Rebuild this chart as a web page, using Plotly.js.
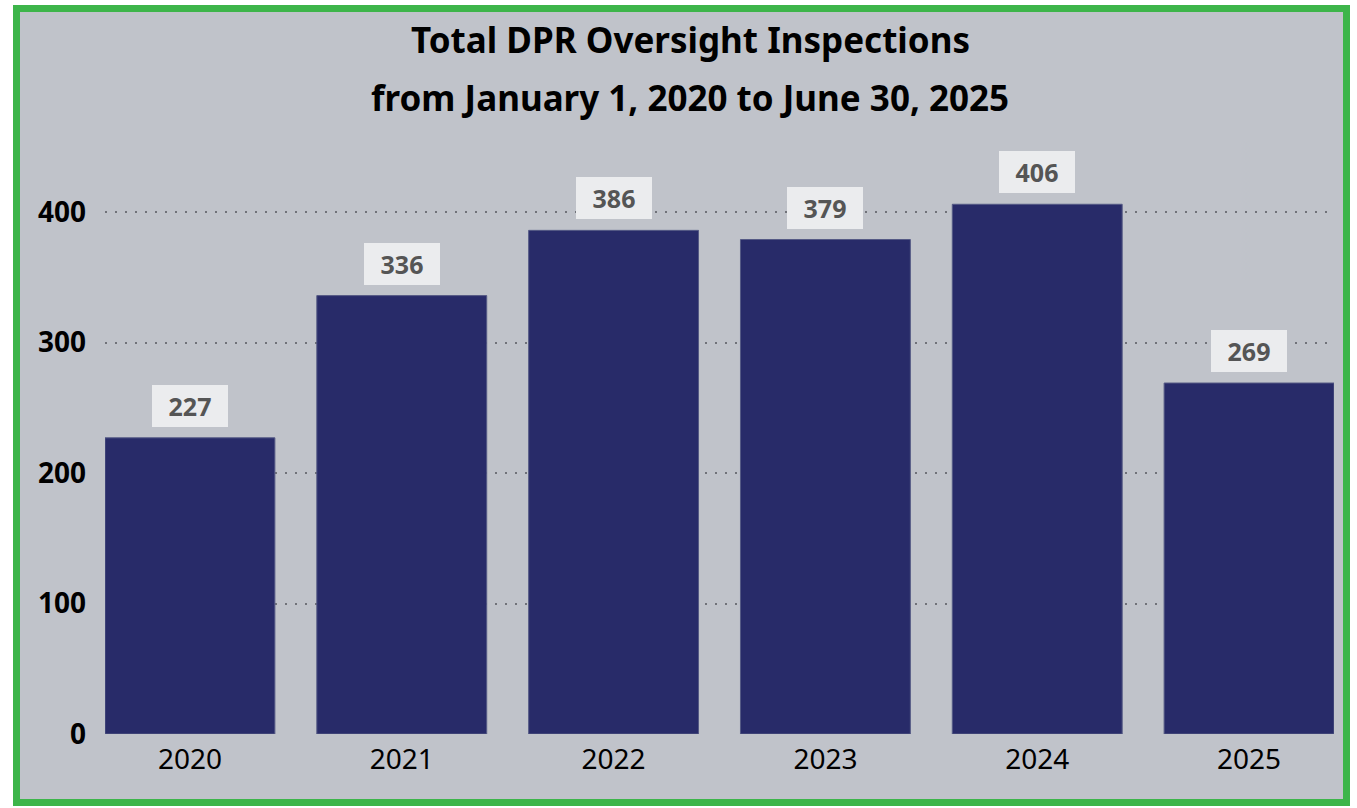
<!DOCTYPE html>
<html>
<head>
<meta charset="utf-8">
<script src="https://cdn.plot.ly/plotly-3.0.1.min.js"></script>
<style>
  html, body { margin: 0; padding: 0; background: #ffffff; width: 1357px; height: 808px; overflow: hidden; }
  #frame { position: absolute; left: 13px; top: 5px; width: 1337px; height: 801px; box-sizing: border-box;
           border: 7px solid #3db54a; background: #c0c3ca; }
  #chart { width: 1323px; height: 787px; }
</style>
</head>
<body>
<div id="frame"><div id="chart"></div></div>
<script>
const years = ["2020", "2021", "2022", "2023", "2024", "2025"];
const inspections = [227, 336, 386, 379, 406, 269];
const yTicks = [0, 100, 200, 300, 400];
const titleLine1 = "Total DPR Oversight Inspections";
const titleLine2 = "from January 1, 2020 to June 30, 2025";

const FONT = "'Noto Sans', 'Open Sans', sans-serif";

const trace = {
  type: "bar",
  x: years,
  y: inspections,
  marker: { color: "#282b69", line: { color: "#555a85", width: 1 } },
  hoverinfo: "x+y",
  width: 0.802
};

const labelAnns = years.map((yr, i) => ({
  x: i, y: inspections[i], xref: "x", yref: "y",
  text: "<b>" + inspections[i] + "</b>",
  showarrow: false, yanchor: "bottom", yshift: 11,
  font: { family: FONT, size: 25, color: "#555555" },
  bgcolor: "#ebecee", borderpad: 4, borderwidth: 0,
  width: 68
}));

const titleAnns = [
  { text: "<b>" + titleLine1 + "</b>", xref: "paper", yref: "paper", x: 0.476, y: 1.267,
    xanchor: "center", yanchor: "middle", showarrow: false,
    font: { family: FONT, size: 35, color: "#000000" } },
  { text: "<b>" + titleLine2 + "</b>", xref: "paper", yref: "paper", x: 0.476, y: 1.161,
    xanchor: "center", yanchor: "middle", showarrow: false,
    font: { family: FONT, size: 35, color: "#000000" } }
];

const layout = {
  width: 1323, height: 787,
  margin: { l: 85, r: 9, t: 174, b: 65 },
  paper_bgcolor: "rgba(0,0,0,0)",
  plot_bgcolor: "rgba(0,0,0,0)",
  showlegend: false,
  font: { family: FONT, color: "#000000" },
  xaxis: {
    type: "category",
    range: [-0.401, 5.401],
    showgrid: false, zeroline: false, showline: false,
    ticks: "", ticklabelstandoff: 6,
    tickfont: { family: FONT, size: 28, color: "#000000" },
    fixedrange: true
  },
  yaxis: {
    range: [0, 420],
    tickvals: yTicks,
    ticktext: yTicks.map(v => "<b>" + v + "</b>"),
    showgrid: true, gridcolor: "#707279", griddash: "2px,8px", gridwidth: 2,
    zeroline: false, showline: false, ticks: "",
    ticklabelstandoff: 18,
    tickfont: { family: FONT, size: 28, color: "#000000" },
    fixedrange: true
  },
  bargap: 0.2,
  annotations: labelAnns.concat(titleAnns)
};

Plotly.newPlot("chart", [trace], layout, { displayModeBar: false, staticPlot: true });
</script>
</body>
</html>
